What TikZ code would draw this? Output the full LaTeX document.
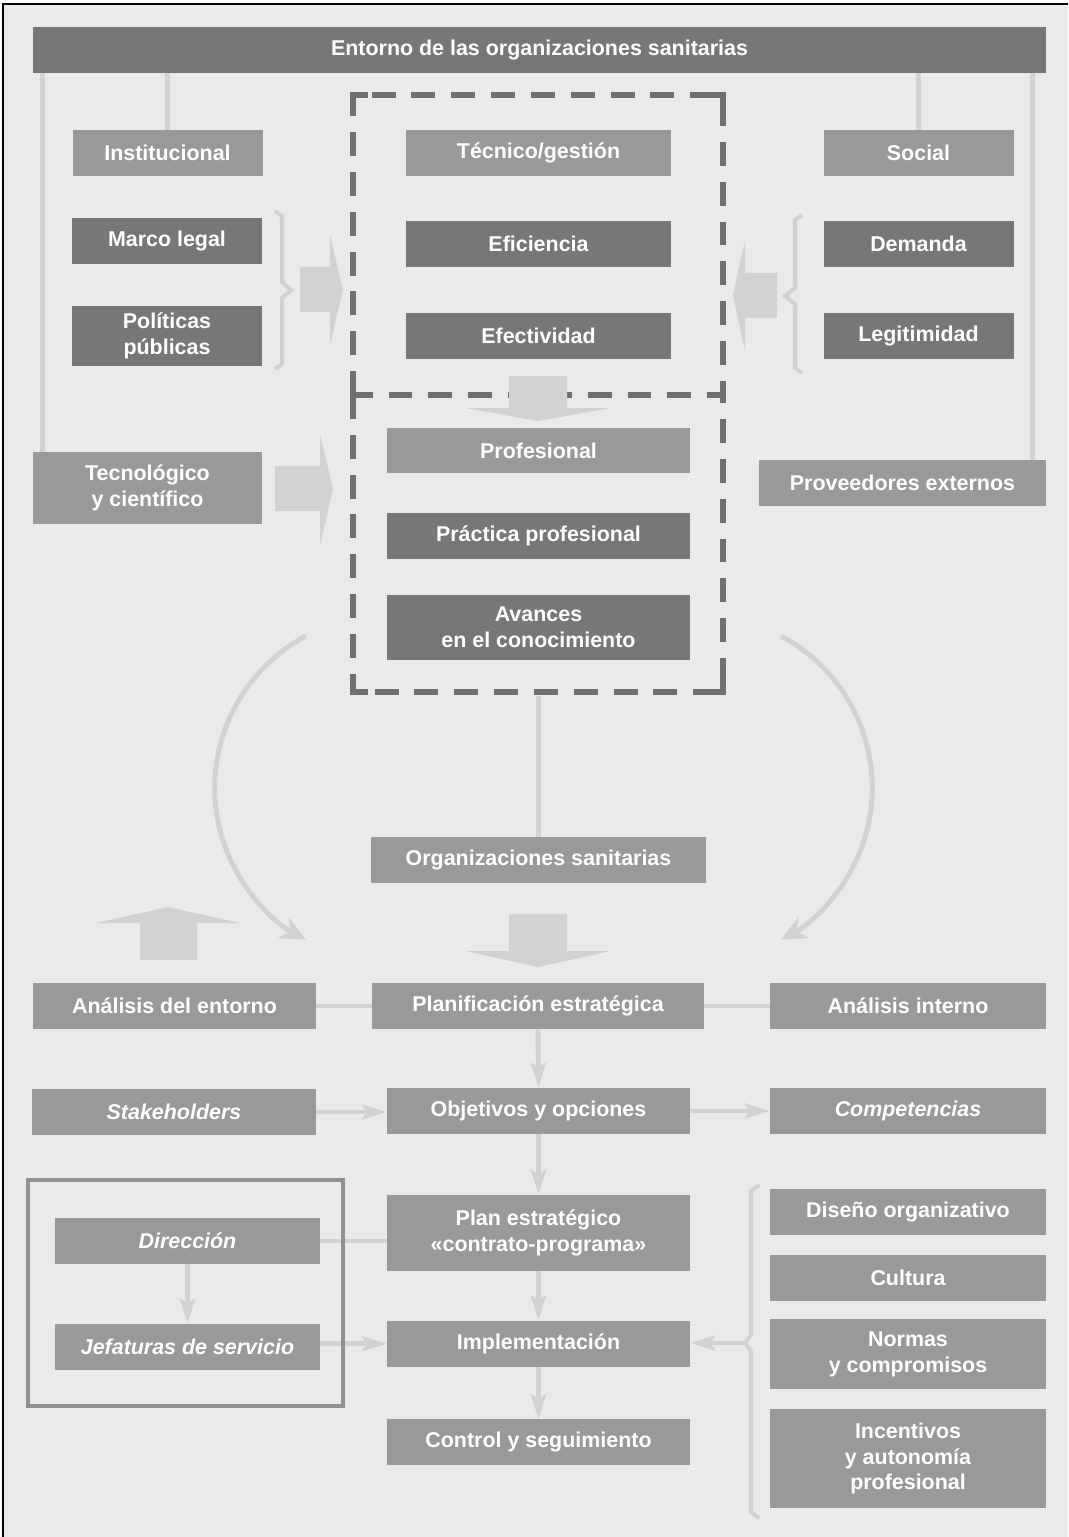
\documentclass[tikz,border=0pt]{standalone}
\usepackage{fontspec}
\setmainfont{Liberation Sans}
\usetikzlibrary{positioning}
\usetikzlibrary{arrows.meta}
\newlength{\unitpx}
\setlength{\unitpx}{0.02cm}
\newcommand{\boxfont}{\fontsize{12.2}{14.6}\selectfont\bfseries}
\definecolor{bgray}{HTML}{EAEAEA}
\definecolor{dgray}{HTML}{777777}
\definecolor{mgray}{HTML}{999999}
\definecolor{lgray}{HTML}{D2D2D2}
\definecolor{dashgray}{HTML}{6F6F6F}
\tikzset{%
  dbox/.style = {rectangle,fill=dgray,text=white,font=\boxfont,
        align=center,inner sep=0pt},
  mbox/.style = {rectangle,fill=mgray,text=white,font=\boxfont,
        align=center,inner sep=0pt},
  it/.style = {font=\boxfont\itshape},
  boxw/.style = {minimum width=#1\unitpx},
  boxh/.style = {minimum height=#1\unitpx},
  link/.style = {draw=lgray,line width=2.8pt},
  linkarrow/.style = {link,-{Stealth[length=14pt,width=8.5pt,inset=2.5pt]}},
  curvearrow/.style = {link,-{Stealth[length=14.5pt,width=13pt,inset=4.5pt]}},
  brace/.style = {draw=lgray,line width=2.3pt},
  blockarrow/.style = {fill=lgray},
  dashbox/.style = {draw=dashgray,line width=3.4pt,dash pattern=on 13.6pt off 9.07pt},
  dashcorner/.style = {draw=dashgray,line width=3.4pt},
  groupframe/.style = {draw=mgray!95!black,line width=2.6pt}
}

\begin{document}
\begin{tikzpicture}[x=0.02cm,y=-0.02cm]
   \useasboundingbox (0,0) rectangle (1068,1537);
   \fill[bgray] (3,4) rectangle (1068,1537);
   \draw[black,line width=1.1pt] (3,1537) -- (3,4) -- (1068,4);

   % entorno
   \node[dbox,boxw=1013,boxh=46] (env) at (539.5,50) {Entorno de las organizaciones sanitarias};
   \node[mbox,boxw=190,boxh=46] (inst) at (167.5,153) {Institucional};
   \node[mbox,boxw=265,boxh=46] (tec) at (538.5,153) {Técnico/gestión};
   \node[mbox,boxw=190,boxh=46] (soc) at (918.5,153) {Social};
   \node[dbox,boxw=190,boxh=46] (marco) at (167,241) {Marco legal};
   \node[dbox,boxw=190,boxh=60] (pol) at (167,336) {Políticas\\públicas};
   \node[dbox,boxw=265,boxh=46] (efic) at (538.5,244) {Eficiencia};
   \node[dbox,boxw=265,boxh=46] (efec) at (538.5,336) {Efectividad};
   \node[dbox,boxw=190,boxh=46] (dem) at (918.5,244) {Demanda};
   \node[dbox,boxw=190,boxh=46] (leg) at (918.5,336) {Legitimidad};
   \node[mbox,boxw=229,boxh=72] (tecno) at (147.5,488) {Tecnológico\\y científico};
   \node[mbox,boxw=303,boxh=45] (prof) at (538.5,450.5) {Profesional};
   \node[dbox,boxw=303,boxh=46] (prac) at (538.5,536) {Práctica profesional};
   \node[dbox,boxw=303,boxh=65] (avan) at (538.5,627.5) {Avances\\en el conocimiento};
   \node[mbox,boxw=287,boxh=46] (prov) at (902.5,483) {Proveedores externos};

   % organizacion
   \node[mbox,boxw=335,boxh=46] (org) at (538.5,860) {Organizaciones sanitarias};
   \node[mbox,boxw=283,boxh=46] (anent) at (174.5,1006) {Análisis del entorno};
   \node[mbox,boxw=332,boxh=46] (plani) at (538,1006) {Planificación estratégica};
   \node[mbox,boxw=276,boxh=46] (anint) at (908,1006) {Análisis interno};
   \node[mbox,it,boxw=284,boxh=46] (stake) at (174,1112) {Stakeholders};
   \node[mbox,boxw=303,boxh=46] (obj) at (538.5,1111) {Objetivos y opciones};
   \node[mbox,it,boxw=276,boxh=46] (comp) at (908,1111) {Competencias};
   \node[mbox,it,boxw=265,boxh=46] (dir) at (187.5,1241) {Dirección};
   \node[mbox,it,boxw=265,boxh=46] (jef) at (187.5,1347) {Jefaturas de servicio};
   \node[mbox,boxw=303,boxh=76] (plan) at (538.5,1233) {Plan estratégico\\«contrato-programa»};
   \node[mbox,boxw=303,boxh=46] (impl) [below=49\unitpx of plan] {Implementación};
   \node[mbox,boxw=303,boxh=46] (ctrl) [below=52\unitpx of impl] {Control y seguimiento};
   \node[mbox,boxw=276,boxh=46] (dis) at (908,1212) {Diseño organizativo};
   \node[mbox,boxw=276,boxh=46] (cul) [below=19\unitpx of dis] {Cultura};
   \node[mbox,boxw=276,boxh=70] (norm) [below=18\unitpx of cul] {Normas\\y compromisos};
   \node[mbox,boxw=276,boxh=99] (inc) [below=19\unitpx of norm] {Incentivos\\y autonomía\\profesional};

   \coordinate (tecnoline) at ([xshift=10\unitpx]tecno.north west);
   \coordinate (provline) at ([xshift=-14\unitpx]prov.north east);
   \coordinate (dashbot) at (538.5,696);
   \coordinate (bracetip) at (745,1343);
   \coordinate (arcl) at (306,636);
   \coordinate (arcr) at (781,636);

   \draw[link] (tecnoline) -- (tecnoline |- env.south);
   \draw[link] (inst.north) -- (inst.north |- env.south);
   \draw[link] (soc.north) -- (soc.north |- env.south);
   \draw[link] (provline) -- (provline |- env.south);
   \draw[link] (dashbot) -- (org.north);
   \draw[link] (anent.east) -- (plani.west);
   \draw[link] (plani.east) -- (anint.west);
   \draw[linkarrow] (plani.south) -- (obj.north);
   \draw[linkarrow] (stake.east) -- (stake.east -| obj.west);
   \draw[linkarrow] (obj.east) -- (obj.east -| comp.west);
   \draw[linkarrow] (obj.south) -- (plan.north);
   \draw[link] (dir.east) -- (dir.east -| plan.west);
   \draw[linkarrow] (dir.south) -- (jef.north);
   \draw[linkarrow] (impl.west -| jef.east) -- (impl.west);
   \draw[linkarrow] (plan.south) -- (impl.north);
   \draw[linkarrow] (impl.south) -- (ctrl.north);
   \draw[linkarrow] (bracetip) -- (bracetip -| impl.east);
   \draw[curvearrow] (arcl) arc[start angle=118,end angle=242,radius=172\unitpx];
   \draw[curvearrow] (arcr) arc[start angle=62,end angle=-62,radius=172\unitpx];

   % llaves
   \draw[brace] (275,211) -- (282,216) -- (282,282) -- (291,290) -- (282,298) -- (282,364) -- (275,369);
   \draw[brace] (802,215) -- (795,220) -- (795,288) -- (785,296) -- (795,304) -- (795,368) -- (802,373);
   \draw[brace] (759,1185) -- (751,1191) -- (751,1335) -- (745,1343) -- (751,1351) -- (751,1512) -- (759,1518);

   \draw[groupframe] (28,1180) rectangle (343,1406);
   \draw[dashbox] (353,395) -- (353,95) -- (723,95) -- (723,395);
   \draw[dashbox] (353,395) rectangle (723,692);
   \draw[dashcorner] (353,110) -- (353,95) -- (368,95);
   \draw[dashcorner] (708,95) -- (723,95) -- (723,110);
   \draw[dashcorner] (353,677) -- (353,692) -- (368,692);
   \draw[dashcorner] (708,692) -- (723,692) -- (723,677);

   % flechas anchas
   \fill[blockarrow] (300,267) -- (330,267) -- (330,235) -- (343,290) -- (330,345) -- (330,312) -- (300,312) -- cycle;
   \fill[blockarrow] (777,273) -- (745,273) -- (745,240) -- (733,295) -- (745,352) -- (745,318) -- (777,318) -- cycle;
   \fill[blockarrow] (275,466) -- (320,466) -- (320,434) -- (333,489) -- (320,546) -- (320,511) -- (275,511) -- cycle;
   \fill[blockarrow] (509,376) -- (567,376) -- (567,408) -- (611,408) -- (538,421) -- (465,408) -- (509,408) -- cycle;
   \fill[blockarrow] (509,914) -- (567,914) -- (567,951) -- (611,951) -- (538,967) -- (465,951) -- (509,951) -- cycle;
   \fill[blockarrow] (140,960) -- (197,960) -- (197,923) -- (240,923) -- (168,907) -- (96,923) -- (140,923) -- cycle;
\end{tikzpicture}
\end{document}
